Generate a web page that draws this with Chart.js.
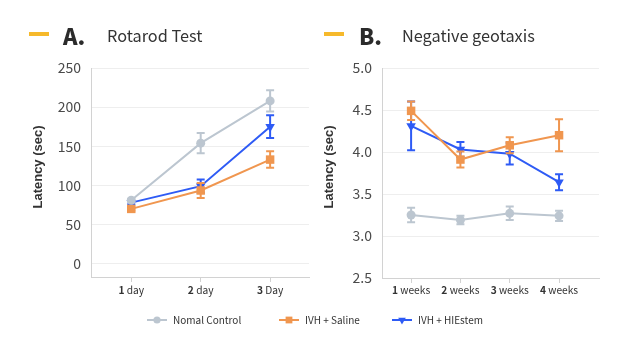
<!DOCTYPE html>
<html>
<head>
<meta charset="utf-8">
<script src="https://cdn.jsdelivr.net/npm/chart.js@4.4.1/dist/chart.umd.min.js"></script>
<style>
html, body { margin: 0; padding: 0; background: #fff; }
#wrap { position: relative; width: 630px; height: 350px; font-family: "Noto Sans CJK KR", "Noto Sans", sans-serif; color: #333; }
canvas { position: absolute; left: 0; top: 0; }
.dash { position: absolute; top: 32px; height: 4px; width: 20px; background: #f6b92b; }
.lab { position: absolute; top: 20px; font-weight: 900; font-size: 22px; line-height: 30px; color: #2b2b2b; }
.ttl { position: absolute; top: 22px; font-size: 16.3px; line-height: 26px; color: #333; }
</style>
</head>
<body>
<div id="wrap">
  <canvas id="chartA" width="630" height="350"></canvas>
  <canvas id="chartB" width="630" height="350"></canvas>
  <div class="dash" style="left:29px"></div>
  <div class="lab" style="left:63px">A.</div>
  <div class="ttl" style="left:107px">Rotarod Test</div>
  <div class="dash" style="left:324px"></div>
  <div class="lab" style="left:359px">B.</div>
  <div class="ttl" style="left:402px">Negative geotaxis</div>
</div>
<script>
// data
const seriesNames = ["Nomal Control", "IVH + Saline", "IVH + HIEstem"];

const dayLabels = ["1 day", "2 day", "3 Day"];
const rotarodTicks = [0, 50, 100, 150, 200, 250];
const rotarodNormal = [81, 154, 208];
const rotarodNormalErr = [2, 13, 13.5];
const rotarodSaline = [70, 93.5, 133];
const rotarodSalineErr = [2, 9.5, 10.5];
const rotarodStem = [78, 99, 175];
const rotarodStemErr = [2, 8.5, 14.5];

const weekLabels = ["1 weeks", "2 weeks", "3 weeks", "4 weeks"];
const geoTicks = [2.5, 3.0, 3.5, 4.0, 4.5, 5.0];
const geoNormal = [3.25, 3.19, 3.27, 3.24];
const geoNormalErr = [0.085, 0.05, 0.08, 0.06];
const geoSaline = [4.49, 3.91, 4.08, 4.20];
const geoSalineErr = [0.11, 0.095, 0.095, 0.19];
const geoStem = [4.31, 4.03, 3.98, 3.64];
const geoStemErr = [0.29, 0.09, 0.13, 0.095];

const colors = ["#bcc6d0", "#f0964f", "#2e5bf5"];
const styles = [
  { pointStyle: "circle", radius: 4.5, rotation: 0 },
  { pointStyle: "rect", radius: 6, rotation: 0 },
  { pointStyle: "triangle", radius: 5.5, rotation: 180 },
];

const tickFont = "\"Noto Sans CJK KR\", \"Noto Sans\", sans-serif";

// error bars, drawn with each dataset
const errorBars = {
  id: "errorBars",
  afterDatasetDraw(chart, args) {
    const ds = chart.data.datasets[args.index];
    if (!ds.errors) return;
    const ctx = chart.ctx;
    const ys = chart.scales.y;
    ctx.save();
    ctx.strokeStyle = ds.borderColor;
    ctx.lineWidth = 2;
    args.meta.data.forEach((pt, i) => {
      const v = ds.data[i].y, e = ds.errors[i];
      const t = ys.getPixelForValue(v + e), b = ys.getPixelForValue(v - e);
      ctx.beginPath();
      ctx.moveTo(pt.x, t); ctx.lineTo(pt.x, b);
      ctx.moveTo(pt.x - 4, t); ctx.lineTo(pt.x + 4, t);
      ctx.moveTo(pt.x - 4, b); ctx.lineTo(pt.x + 4, b);
      ctx.stroke();
    });
    ctx.restore();
  }
};

// x labels with bold number, y title
const axisText = {
  id: "axisText",
  afterDraw(chart) {
    const ctx = chart.ctx;
    const xs = chart.scales.x;
    ctx.save();
    ctx.fillStyle = "#333";
    ctx.textBaseline = "alphabetic";
    chart.data.labels.forEach((lab, i) => {
      const k = lab.indexOf(" ");
      const num = lab.slice(0, k), rest = lab.slice(k);
      ctx.font = "bold 10.2px " + tickFont;
      const w1 = ctx.measureText(num).width;
      ctx.font = "10.2px " + tickFont;
      const w2 = ctx.measureText(rest).width;
      const x0 = xs.getPixelForValue(i + 1) - (w1 + w2) / 2;
      ctx.font = "bold 10.2px " + tickFont;
      ctx.fillText(num, x0, 294);
      ctx.font = "10.2px " + tickFont;
      ctx.fillText(rest, x0 + w1, 294);
    });
    ctx.translate(chart.chartArea.left - 53, 167);
    ctx.rotate(-Math.PI / 2);
    ctx.textAlign = "center";
    ctx.textBaseline = "middle";
    ctx.font = "bold 13px \"Liberation Sans\", Arial, sans-serif";
    ctx.fillText("Latency (sec)", 0, 0);
    ctx.restore();
  }
};

// shared legend at the bottom
const legendStarts = [147, 279, 392];
const bottomLegend = {
  id: "bottomLegend",
  afterDraw(chart) {
    const ctx = chart.ctx;
    ctx.save();
    seriesNames.forEach((name, i) => {
      const x0 = legendStarts[i], y = 320;
      ctx.strokeStyle = colors[i];
      ctx.fillStyle = colors[i];
      ctx.lineWidth = 2;
      ctx.beginPath();
      ctx.moveTo(x0, y); ctx.lineTo(x0 + 20, y);
      ctx.stroke();
      Chart.helpers.drawPoint(ctx, {
        pointStyle: styles[i].pointStyle,
        rotation: styles[i].rotation,
        radius: styles[i].radius * 0.8,
        borderWidth: 0
      }, x0 + 10, y);
      ctx.fillStyle = "#333";
      ctx.font = "10px " + tickFont;
      ctx.textBaseline = "middle";
      ctx.fillText(name, x0 + 26, y);
    });
    ctx.restore();
  }
};

function makeChart(id, labels, series, errors, ticks, yMin, yMax, xMin, xMax, pad, yWidth, decimals, extra) {
  return new Chart(document.getElementById(id), {
    type: "line",
    data: {
      labels: labels,
      datasets: series.map((vals, i) => ({
        label: seriesNames[i],
        data: vals.map((v, j) => ({ x: j + 1, y: v })),
        errors: errors[i],
        borderColor: colors[i],
        backgroundColor: colors[i],
        borderWidth: 2,
        pointStyle: styles[i].pointStyle,
        pointRadius: styles[i].radius,
        pointRotation: styles[i].rotation,
        pointBorderWidth: 0,
        tension: 0,
      })),
    },
    options: {
      responsive: false,
      animation: false,
      events: [],
      layout: { padding: pad },
      plugins: { legend: { display: false }, tooltip: { enabled: false } },
      scales: {
        x: {
          type: "linear",
          min: xMin,
          max: xMax,
          afterBuildTicks: (s) => { s.ticks = labels.map((_, i) => ({ value: i + 1 })); },
          afterFit: (s) => { s.height = 20; },
          ticks: { display: false },
          grid: { drawOnChartArea: false, drawTicks: true, tickLength: 5, color: "#d2d2d2" },
          border: { color: "#d2d2d2" },
        },
        y: {
          min: yMin,
          max: yMax,
          afterBuildTicks: (s) => { s.ticks = ticks.map((v) => ({ value: v })); },
          afterFit: (s) => { s.width = yWidth; },
          ticks: {
            padding: 10,
            color: "#4a4a4a",
            font: { family: tickFont, size: 14 },
            callback: (v) => v.toFixed(decimals),
          },
          grid: { color: "#eeeeee", drawTicks: false },
          border: { color: "#d2d2d2" },
        },
      },
    },
    plugins: [errorBars, axisText].concat(extra),
  });
}

makeChart("chartA", dayLabels,
  [rotarodNormal, rotarodSaline, rotarodStem],
  [rotarodNormalErr, rotarodSalineErr, rotarodStemErr],
  rotarodTicks, -17, 250, 0.42, 3.56,
  { left: 0, right: 321, top: 68, bottom: 53 }, 91, 0, [bottomLegend]);

makeChart("chartB", weekLabels,
  [geoNormal, geoSaline, geoStem],
  [geoNormalErr, geoSalineErr, geoStemErr],
  geoTicks, 2.5, 5.0, 0.41, 4.81,
  { left: 315, right: 31, top: 68, bottom: 52 }, 67, 1, []);
</script>
</body>
</html>
